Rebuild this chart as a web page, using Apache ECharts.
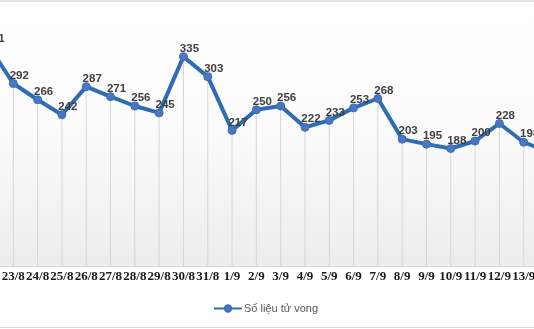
<!DOCTYPE html>
<html>
<head>
<meta charset="utf-8">
<script src="https://cdn.jsdelivr.net/npm/echarts@6/dist/echarts.min.js"></script>
<style>
html,body{margin:0;padding:0;width:534px;height:329px;overflow:hidden;background:#fff;position:relative;}
#chart{position:absolute;left:-11px;top:0;width:559px;height:329px;}
#topband{position:absolute;left:0;top:0;width:534px;height:2px;background:#e2e2e2;}
#botline{position:absolute;left:0;top:327px;width:534px;height:1px;background:#d9d9d9;}
</style>
</head>
<body>
<div id="chart"></div>
<div id="topband"></div>
<div id="botline"></div>
<script>
const categories = ['22/8','23/8','24/8','25/8','26/8','27/8','28/8','29/8','30/8','31/8','1/9','2/9','3/9','4/9','5/9','6/9','7/9','8/9','9/9','10/9','11/9','12/9','13/9','14/9'];
const deaths = [351,292,266,242,287,271,256,245,335,303,217,250,256,222,233,253,268,203,195,188,200,228,198,183];
const seriesName = 'Số liệu tử vong';

const chart = echarts.init(document.getElementById('chart'), null, {renderer:'canvas'});
chart.setOption({
  animation:false,
  grid:{left:0,right:0,top:16,bottom:63,show:true,borderWidth:0,containLabel:false,outerBoundsMode:'none',
    backgroundColor:new echarts.graphic.LinearGradient(0,0,0,1,[{offset:0,color:'#ffffff'},{offset:0.5,color:'#fafafa'},{offset:1,color:'#ececec'}])},
  legend:{data:[seriesName],left:224,top:303,padding:0,itemWidth:28,itemHeight:8,itemGap:2,
    textStyle:{fontFamily:'Liberation Sans',fontSize:11,color:'#595959',padding:[0,0,0,-3]}},
  xAxis:{type:'category',data:categories,boundaryGap:false,
    axisLine:{show:true,lineStyle:{color:'#d9d9d9',width:1}},
    axisTick:{show:false},splitLine:{show:false},
    axisLabel:{interval:0,margin:4,fontFamily:'Liberation Serif',fontWeight:'bold',fontSize:13,color:'#1a1a1a',hideOverlap:false}},
  yAxis:{type:'value',min:0,max:400,show:false,splitLine:{show:false}},
  series:[
    {type:'bar',name:'drop',data:deaths,barWidth:1,silent:true,z:1,
      itemStyle:{color:'#d6d6d6'}},
    {type:'line',name:seriesName,data:deaths,z:3,
      lineStyle:{color:'#2e6db4',width:4},
      symbol:'circle',symbolSize:8,
      itemStyle:{color:'#4a78c0',borderColor:'#3a6db8',borderWidth:1},
      label:{show:true,position:'inside',offset:[6,-8],fontFamily:'Liberation Sans',fontWeight:'bold',fontSize:11.5,color:'#404040'}}
  ]
});
</script>
</body>
</html>
